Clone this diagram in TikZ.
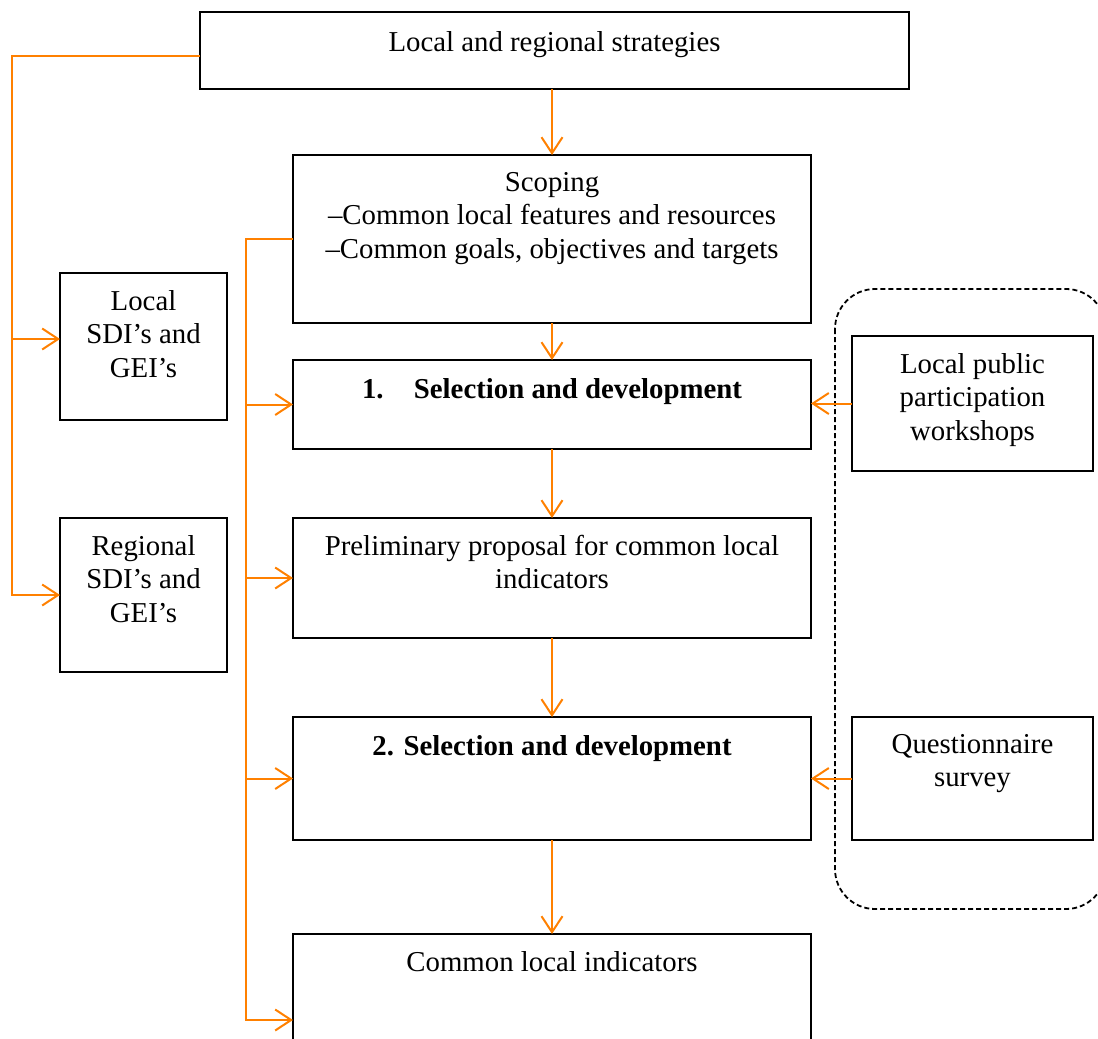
\documentclass[tikz,border=0pt]{standalone}
\usepackage{fontspec}
\setmainfont{Liberation Serif}
\usetikzlibrary{arrows.meta,calc}
\definecolor{flow}{RGB}{255,128,0}
\tikzset{
  box/.style={draw=black, line width=1.5pt, fill=white, inner sep=0pt, outer sep=0pt},
  txt/.style={align=center, inner sep=0pt, anchor=north, font=\fontsize{28.8}{33.5}\selectfont},
  flowline/.style={draw=flow, line width=2pt},
  flowarrow/.style={flowline, -{Straight Barb[length=16pt, width=21pt, line width=2pt]}},
  group/.style={draw=black, line width=1.8pt, dash pattern=on 5pt off 3pt, rounded corners=40pt}
}
\begin{document}
\begin{tikzpicture}[x=1pt, y=-1pt]
\path[use as bounding box, clip] (0,0) rectangle (1098,1039);

% dashed grouping of the participation methods
\draw[group] (835,289) rectangle (1106,909);

% boxes
\node[box, minimum width=709pt, minimum height=77pt]  (strat)  at (554.5,50.5) {};
\node[box, minimum width=518pt, minimum height=168pt] (scope)  at (552,239)    {};
\node[box, minimum width=518pt, minimum height=89pt]  (selA)   at (552,404.5)  {};
\node[box, minimum width=518pt, minimum height=120pt] (prelim) at (552,578)    {};
\node[box, minimum width=518pt, minimum height=123pt] (selB)   at (552,778.5)  {};
\node[box, minimum width=518pt, minimum height=172pt] (common) at (552,1020)   {};
\node[box, minimum width=167pt, minimum height=147pt] (local)  at (143.5,346.5){};
\node[box, minimum width=167pt, minimum height=154pt] (region) at (143.5,595)  {};
\node[box, minimum width=241pt, minimum height=135pt] (wshop)  at (972.5,403.5){};
\node[box, minimum width=241pt, minimum height=123pt] (quest)  at (972.5,778.5){};

% texts
\node[txt] (strat-t)  at ([yshift=-19pt]strat.north)  {Local and regional strategies};
\node[txt] (scope-t)  at ([yshift=-17pt]scope.north)  {Scoping\\–Common local features and resources\\–Common goals, objectives and targets};
\node[txt] (selA-t)   at ([yshift=-18pt]selA.north)   {\bfseries 1.\hspace{1.05em}Selection and development};
\node[txt] (prelim-t) at ([yshift=-17pt]prelim.north) {Preliminary proposal for common local\\indicators};
\node[txt] (selB-t)   at ([yshift=-18pt]selB.north)   {\bfseries 2. Selection and development};
\node[txt] (common-t) at ([yshift=-17pt]common.north) {Common local indicators};
\node[txt] (local-t)  at ([yshift=-17pt]local.north)  {Local\\SDI’s and\\GEI’s};
\node[txt] (region-t) at ([yshift=-17pt]region.north) {Regional\\SDI’s and\\GEI’s};
\node[txt] (wshop-t)  at ([yshift=-17pt]wshop.north)  {Local public\\participation\\workshops};
\node[txt] (quest-t)  at ([yshift=-17pt]quest.north)  {Questionnaire\\survey};

% main sequence
\draw[flowarrow] (strat.south -| scope.north) -- (scope.north);
\draw[flowarrow] (scope.south) -- (selA.north);
\draw[flowarrow] (selA.south) -- (prelim.north);
\draw[flowarrow] (prelim.south) -- (selB.north);
\draw[flowarrow] (selB.south) -- (common.north);

% participation inputs
\draw[flowarrow] (wshop.west) -- (wshop.west -| selA.east);
\draw[flowarrow] (quest.west) -- (selB.east);

% strategies feeding the indicator sets
\coordinate (busA) at (12,339);
\draw[flowarrow] ([yshift=-5.5pt]strat.west) -| ([xshift=-48pt]region.west) -- (region.west);
\draw[flowarrow] (busA) -- (busA -| local.west);

% indicator sets feeding every stage
\coordinate (busB) at (246,239);
\draw[flowarrow] (scope.west |- busB) -| (busB |- common.west) -- (common.west);
\draw[flowarrow] (busB |- selA.west) -- (selA.west);
\draw[flowarrow] (busB |- prelim.west) -- (prelim.west);
\draw[flowarrow] (busB |- selB.west) -- (selB.west);
\end{tikzpicture}
\end{document}
